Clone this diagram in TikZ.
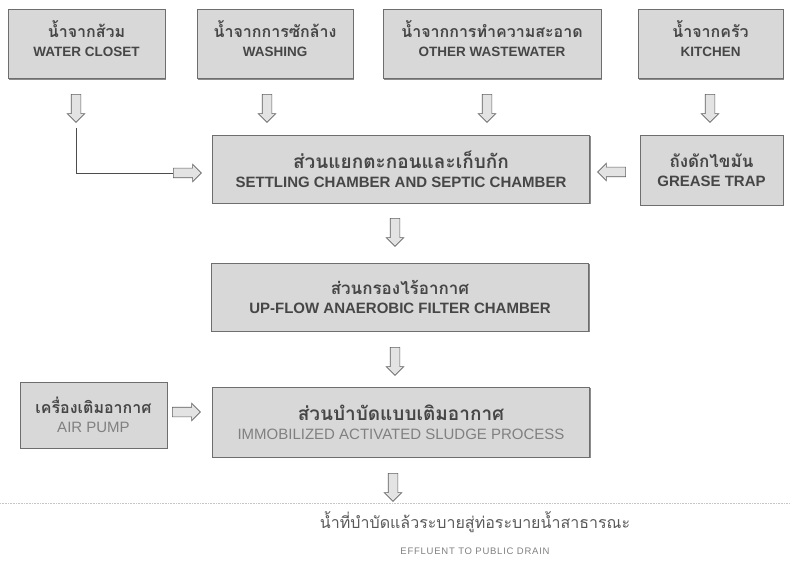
\documentclass[tikz,border=0pt]{standalone}
\usepackage{fontspec}
\setmainfont{Liberation Sans}
\newfontfamily\thaifont[Script=Thai]{Loma}
\usetikzlibrary{shapes.arrows,shadows}

\definecolor{boxfill}{RGB}{216,216,216}
\definecolor{boxline}{RGB}{110,110,110}
\definecolor{ink}{RGB}{70,70,70}

\newcommand{\srcfont}{\fontsize{13.5}{19}\selectfont}
\newcommand{\stagefont}{\fontsize{15}{19}\selectfont}
\newcommand{\thsrc}{\thaifont\bfseries\fontsize{16}{19}\selectfont}
\newcommand{\thstage}{\thaifont\bfseries\fontsize{19}{19}\selectfont}
% two lines, lifted a little inside the box
\newcommand{\uplines}[2]{{#1}\\#2\\[-9pt]\mbox{}}

\begin{document}
\begin{tikzpicture}[x=1pt, y=-1pt,
  box/.style={draw=boxline, fill=boxfill, line width=0.9pt, inner sep=0pt, align=center, text=ink,
    drop shadow={shadow xshift=1pt, shadow yshift=-1.2pt, fill=black!45, opacity=1}},
  srcbox/.style={box, minimum height=69pt, font=\srcfont},
  stagebox/.style={box, minimum width=377pt, minimum height=68pt, font=\stagefont},
  flow/.style={single arrow, draw=gray!75!black, fill=gray!22, line width=0.6pt,
    inner xsep=0pt, inner ysep=4.5pt, minimum height=28pt, single arrow head extend=4pt,
    single arrow head indent=0pt},
  down/.style={flow, rotate=-90},
  left/.style={flow, rotate=180},
  feed/.style={draw=gray!60!black, line width=0.6pt}
]
  \useasboundingbox (0,0) rectangle (790,588);

  \node[srcbox, minimum width=157pt] (closet) at (86.5,44) {\uplines{\thsrc น้ำจากส้วม}{\textbf{WATER CLOSET}}};
  \node[srcbox, minimum width=156pt] (washing) at (275,44) {\uplines{\thsrc น้ำจากการซักล้าง}{\textbf{WASHING}}};
  \node[srcbox, minimum width=218pt] (other) at (492,44) {\uplines{\thsrc น้ำจากการทำความสะอาด}{\textbf{OTHER WASTEWATER}}};
  \node[srcbox, minimum width=145pt] (kitchen) at (710.5,44) {\uplines{\thsrc น้ำจากครัว}{\textbf{KITCHEN}}};

  \node[stagebox] (settle) at (401,169) {{\thstage ส่วนแยกตะกอนและเก็บกัก}\\\textbf{SETTLING CHAMBER AND SEPTIC CHAMBER}};
  \node[srcbox, minimum width=143pt, minimum height=70pt, font=\stagefont] (grease) at (711.5,170) {{\thstage\fontsize{17}{19}\selectfont ถังดักไขมัน}\\\textbf{GREASE TRAP}};
  \node[stagebox] (filter) at (400,297) {{\thstage\fontsize{17}{19}\selectfont ส่วนกรองไร้อากาศ}\\\textbf{UP-FLOW ANAEROBIC FILTER CHAMBER}};
  \node[stagebox, minimum height=70pt] (aerate) at (401,422) {{\thstage ส่วนบำบัดแบบเติมอากาศ}\\\textcolor{gray}{IMMOBILIZED ACTIVATED SLUDGE PROCESS}};
  \node[srcbox, minimum width=147pt, minimum height=66pt, font=\stagefont] (pump) at (93.5,415) {{\thstage\fontsize{16}{19}\selectfont เครื่องเติมอากาศ}\\\textcolor{gray}{AIR PUMP}};

  \node[down] (aclo) at (76,106) {};
  \node[down] (awas) at (267,106) {};
  \node[down] (aoth) at (487,106) {};
  \node[down] (akit) at (710,106) {};
  \node[flow] (ain) at (185,173) {};
  \node[left] (agre) at (614,172) {};
  \node[down] (aset) at (395,230) {};
  \node[down] (afil) at (395,359) {};
  \node[flow] (apump) at (184,412) {};
  \node[down] (aout) at (393,485) {};

  \draw[feed, shorten <=5pt] (aclo.tip) |- (ain.tail);

  \draw[gray!45, densely dotted, line width=0.6pt] (0,503) -- (790,503);

  \node[align=center, text=black!65, font=\fontsize{16}{26}\selectfont] (effluent) at (475,533)
    {{\thaifont น้ำที่บำบัดแล้วระบายสู่ท่อระบายน้ำสาธารณะ}\\{\fontsize{9.5}{10}\selectfont\addfontfeatures{LetterSpace=8}\textcolor{gray}{EFFLUENT TO PUBLIC DRAIN}}};
\end{tikzpicture}
\end{document}
